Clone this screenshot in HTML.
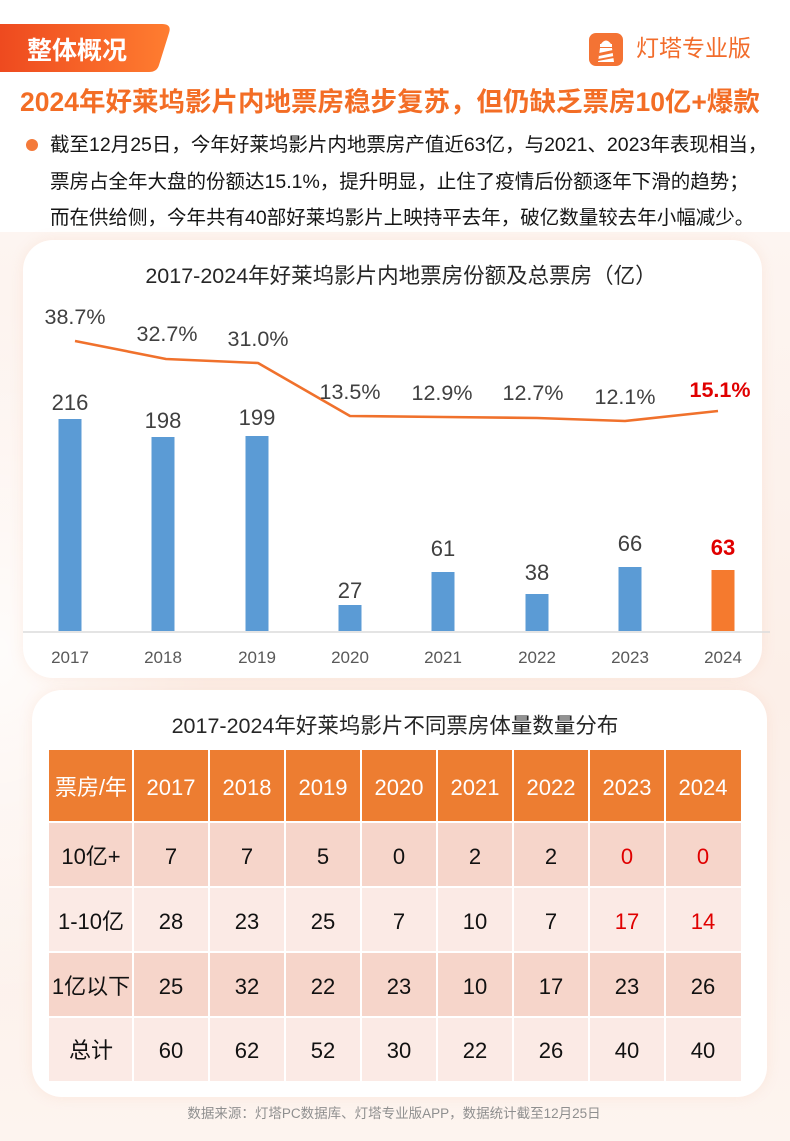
<!DOCTYPE html>
<html><head><meta charset="utf-8">
<style>
*{margin:0;padding:0;box-sizing:border-box}
html,body{width:790px;height:1141px;overflow:hidden;background:#fff}
body{position:relative;font-family:"Liberation Sans","Noto Sans CJK SC",sans-serif}
.bg{position:absolute;left:0;top:232px;width:790px;height:909px;
background:radial-gradient(ellipse 300px 500px at 0px 420px, rgba(255,255,255,0.8), rgba(255,255,255,0) 70%),
linear-gradient(180deg,#fdf5f1 0%,#fcefe8 50%,#fdf4ef 100%)}
.card{position:absolute;background:#fff;border-radius:30px;box-shadow:0 0 14px rgba(240,160,120,0.14)}
.abs{position:absolute;white-space:nowrap}
.title{left:20px;top:86px;font-size:26.5px;line-height:32px;font-weight:bold;color:#f36d25}
.para{left:50px;top:127px;font-size:19.5px;line-height:36.5px;color:#151515}
</style></head><body>
<div class="bg"></div>

<svg class="abs" style="left:0;top:0" width="790" height="90" viewBox="0 0 790 90">
<defs><linearGradient id="tg" x1="0" x2="1" y1="0" y2="0"><stop offset="0" stop-color="#ee4a1f"/><stop offset="1" stop-color="#ff7d30"/></linearGradient></defs>
<path d="M0,24 H162 Q172,24 169,33 L159,65 Q157,72 149,72 H0 Z" fill="url(#tg)"/>
<text x="27" y="59" font-size="25" font-weight="bold" fill="#fff" font-family="Liberation Sans, Noto Sans CJK SC, sans-serif">整体概况</text>
<rect x="589" y="33" width="34" height="33" rx="7" fill="#f47334"/>
<path d="M601,44 Q606,37 611,44 Z" fill="#fff"/>
<rect x="600" y="44" width="12" height="3" fill="#fff"/>
<path d="M600,48 L612,48 L614,62 L598,62 Z" fill="#fff"/>
<path d="M599,53 L613,50 L613,53 L599,56 Z" fill="#f47334"/>
<path d="M598,59 L614,56 L614,58 L598,61 Z" fill="#f47334"/>
<text x="636" y="56" font-size="23" fill="#f26c2b" font-family="Liberation Sans, Noto Sans CJK SC, sans-serif">灯塔专业版</text>
</svg>

<div class="abs title">2024年好莱坞影片内地票房稳步复苏，但仍缺乏票房10亿+爆款</div>
<div class="abs" style="left:26px;top:139px;width:12px;height:12px;border-radius:50%;background:#f47a3a"></div>
<div class="abs para">截至12月25日，今年好莱坞影片内地票房产值近63亿，与2021、2023年表现相当，<br>票房占全年大盘的份额达15.1%，提升明显，止住了疫情后份额逐年下滑的趋势；<br>而在供给侧，今年共有40部好莱坞影片上映持平去年，破亿数量较去年小幅减少。</div>

<div class="card" style="left:23px;top:240px;width:739px;height:438px"></div>
<div class="card" style="left:32px;top:690px;width:735px;height:407px"></div>

<svg class="abs" style="left:0;top:0" width="790" height="1141" viewBox="0 0 790 1141" font-family="Liberation Sans, Noto Sans CJK SC, sans-serif">
<text x="401" y="283" font-size="21.5" fill="#262626" text-anchor="middle">2017-2024年好莱坞影片内地票房份额及总票房（亿）</text>
<line x1="23" y1="632" x2="770" y2="632" stroke="#dcdcdc" stroke-width="1.5"/>
<g fill="#5b9bd5">
<rect x="58.5" y="419" width="23" height="212"/>
<rect x="151.5" y="437" width="23" height="194"/>
<rect x="245.5" y="436" width="23" height="195"/>
<rect x="338.5" y="605" width="23" height="26"/>
<rect x="431.5" y="572" width="23" height="59"/>
<rect x="525.5" y="594" width="23" height="37"/>
<rect x="618.5" y="567" width="23" height="64"/>
</g>
<rect x="711.5" y="570" width="23" height="61" fill="#f57a2e"/>
<polyline points="75,341 166,359 258,363 350,416 443,417 537,418 625,421 718,411" fill="none" stroke="#f0712c" stroke-width="2.6" stroke-linejoin="round"/>
<g font-size="21.5" fill="#404040" text-anchor="middle">
<text x="75" y="324">38.7%</text>
<text x="167" y="341">32.7%</text>
<text x="258" y="346">31.0%</text>
<text x="350" y="399">13.5%</text>
<text x="442" y="400">12.9%</text>
<text x="533" y="400">12.7%</text>
<text x="625" y="404">12.1%</text>
</g>
<text x="720" y="397" font-size="21.5" font-weight="bold" fill="#e00000" text-anchor="middle">15.1%</text>
<g font-size="22" fill="#404040" text-anchor="middle">
<text x="70" y="410">216</text>
<text x="163" y="428">198</text>
<text x="257" y="425">199</text>
<text x="350" y="598">27</text>
<text x="443" y="556">61</text>
<text x="537" y="580">38</text>
<text x="630" y="551">66</text>
</g>
<text x="723" y="555" font-size="22" font-weight="bold" fill="#e00000" text-anchor="middle">63</text>
<g font-size="17" fill="#595959" text-anchor="middle">
<text x="70" y="663">2017</text>
<text x="163" y="663">2018</text>
<text x="257" y="663">2019</text>
<text x="350" y="663">2020</text>
<text x="443" y="663">2021</text>
<text x="537" y="663">2022</text>
<text x="630" y="663">2023</text>
<text x="723" y="663">2024</text>
</g>
<text x="395" y="733" font-size="21.5" fill="#262626" text-anchor="middle">2017-2024年好莱坞影片不同票房体量数量分布</text>

<rect x="49" y="750" width="692" height="71" fill="#ed7d31"/>
<rect x="49" y="823" width="692" height="63" fill="#f6d5ca"/>
<rect x="49" y="888" width="692" height="63" fill="#fbeae5"/>
<rect x="49" y="953" width="692" height="63" fill="#f6d5ca"/>
<rect x="49" y="1018" width="692" height="63" fill="#fbeae5"/>
<g fill="#fff">
<rect x="132" y="750" width="2" height="331"/>
<rect x="208" y="750" width="2" height="331"/>
<rect x="284" y="750" width="2" height="331"/>
<rect x="360" y="750" width="2" height="331"/>
<rect x="436" y="750" width="2" height="331"/>
<rect x="512" y="750" width="2" height="331"/>
<rect x="588" y="750" width="2" height="331"/>
<rect x="664" y="750" width="2" height="331"/>
</g>
<g font-size="22" text-anchor="middle">
<g fill="#fff">
<text x="91" y="795">票房/年</text>
<text x="171" y="795">2017</text>
<text x="247" y="795">2018</text>
<text x="323" y="795">2019</text>
<text x="399" y="795">2020</text>
<text x="475" y="795">2021</text>
<text x="551" y="795">2022</text>
<text x="627" y="795">2023</text>
<text x="703" y="795">2024</text>
</g>
<g fill="#111">
<text x="91" y="864">10亿+</text>
<text x="171" y="864">7</text><text x="247" y="864">7</text><text x="323" y="864">5</text><text x="399" y="864">0</text><text x="475" y="864">2</text><text x="551" y="864">2</text>
<text x="91" y="929">1-10亿</text>
<text x="171" y="929">28</text><text x="247" y="929">23</text><text x="323" y="929">25</text><text x="399" y="929">7</text><text x="475" y="929">10</text><text x="551" y="929">7</text>
<text x="91" y="994">1亿以下</text>
<text x="171" y="994">25</text><text x="247" y="994">32</text><text x="323" y="994">22</text><text x="399" y="994">23</text><text x="475" y="994">10</text><text x="551" y="994">17</text><text x="627" y="994">23</text><text x="703" y="994">26</text>
<text x="91" y="1058">总计</text>
<text x="171" y="1058">60</text><text x="247" y="1058">62</text><text x="323" y="1058">52</text><text x="399" y="1058">30</text><text x="475" y="1058">22</text><text x="551" y="1058">26</text><text x="627" y="1058">40</text><text x="703" y="1058">40</text>
</g>
<g fill="#e00000">
<text x="627" y="864">0</text><text x="703" y="864">0</text>
<text x="627" y="929">17</text><text x="703" y="929">14</text>
</g>
</g>
<text x="394" y="1118" font-size="13.5" fill="#8f8f8f" text-anchor="middle">数据来源：灯塔PC数据库、灯塔专业版APP，数据统计截至12月25日</text>
</svg>
</body></html>
